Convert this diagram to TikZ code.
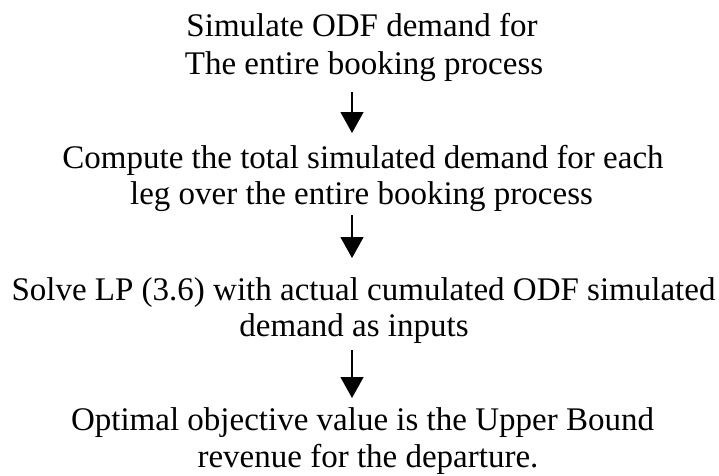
\documentclass[tikz,border=0pt]{standalone}
\usepackage{fontspec}
\setmainfont{Liberation Serif}
\usetikzlibrary{arrows.meta}
\begin{document}
\begin{tikzpicture}[x=1pt,y=-1pt,
  txt/.style={anchor=base,inner sep=0pt,font=\fontsize{33}{36}\selectfont},
  arr/.style={line width=1.3pt,-{Triangle[length=21pt,width=23pt]}}]
\useasboundingbox (0,0) rectangle (719,475);
\coordinate (axis) at (352,0);
\node[txt] (l1) at (362,36) {Simulate ODF demand for};
\node[txt] (l2) at (364,74) {The entire booking process};
\node[txt] (l3) at (363,168) {Compute the total simulated demand for each};
\node[txt] (l4) at (361.5,204) {leg over the entire booking process};
\node[txt] (l5) at (363.5,300) {Solve LP (3.6) with actual cumulated ODF simulated};
\node[txt] (l6) at (354,336) {demand as inputs};
\node[txt] (l7) at (362.5,430) {Optimal objective value is the Upper Bound};
\node[txt] (l8) at (368,467) {revenue for the departure.};
\draw[arr] ([yshift=-18pt]l2.base -| axis) -- ([yshift=35pt]l3.base -| axis);
\draw[arr] ([yshift=-11pt]l4.base -| axis) -- ([yshift=42pt]l5.base -| axis);
\draw[arr] ([yshift=-14pt]l6.base -| axis) -- ([yshift=32pt]l7.base -| axis);
\end{tikzpicture}
\end{document}
